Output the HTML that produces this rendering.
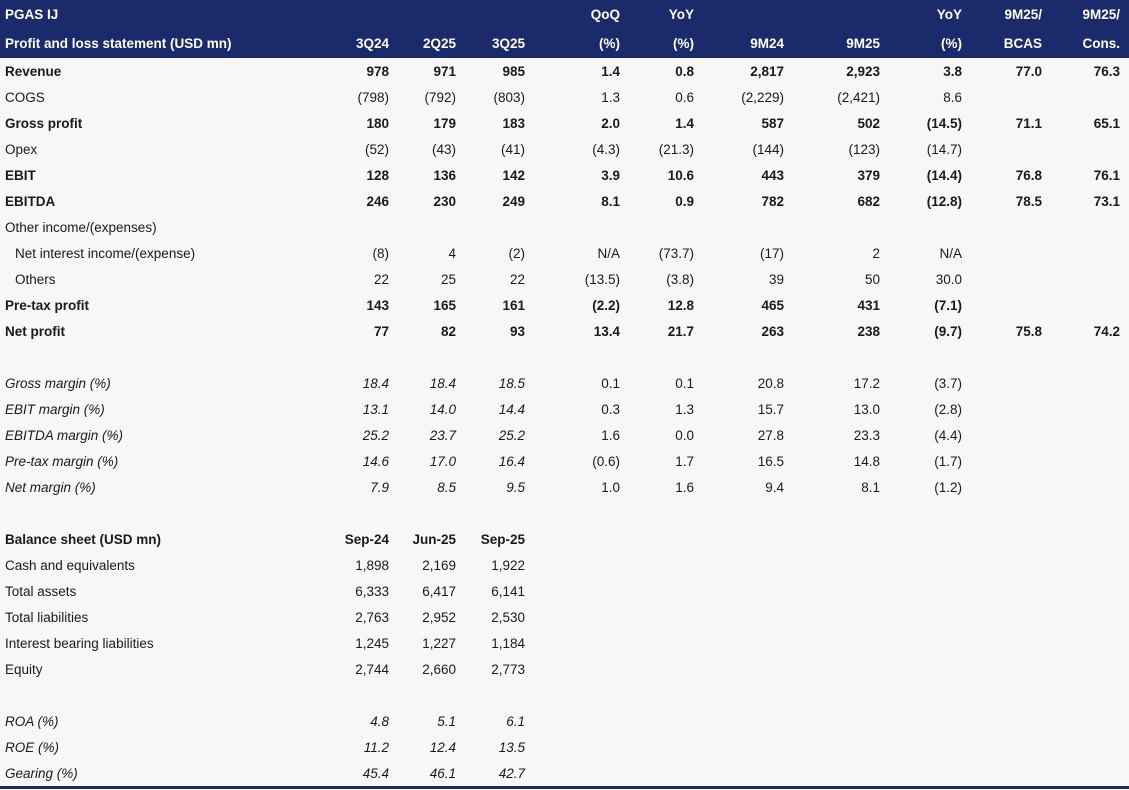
<!DOCTYPE html>
<html><head><meta charset="utf-8"><style>
html,body{margin:0;padding:0;background:#f7f7f7;width:1129px;height:790px;overflow:hidden}
table{border-collapse:collapse;table-layout:fixed;font-family:"Liberation Sans",sans-serif;font-size:13.5px;color:#1a1a1a;position:absolute;left:0;top:0}
td{padding:0;height:26px;text-align:right;white-space:nowrap;overflow:visible}
td:first-child{text-align:left;padding-left:5px}
tr.h td{background:#1b2a6b;color:#fff;font-weight:bold;height:29px}
tr.b td{font-weight:bold}
tr.i td{font-style:italic}
tr.i td:nth-child(n+5){font-style:normal}
.ind{padding-left:15px!important}
.line{position:absolute;left:0;top:786px;width:1129px;height:3px;background:#1b2a6b}
</style></head><body>
<table>
<colgroup><col style="width:330px"><col style="width:59px"><col style="width:67px"><col style="width:69px"><col style="width:95px"><col style="width:74px"><col style="width:90px"><col style="width:96px"><col style="width:82px"><col style="width:80px"><col style="width:78px"><col style="width:9px"></colgroup>
<tr class="h"><td>PGAS IJ</td><td></td><td></td><td></td><td>QoQ</td><td>YoY</td><td></td><td></td><td>YoY</td><td>9M25/</td><td>9M25/</td><td></td></tr>
<tr class="h"><td>Profit and loss statement (USD mn)</td><td>3Q24</td><td>2Q25</td><td>3Q25</td><td>(%)</td><td>(%)</td><td>9M24</td><td>9M25</td><td>(%)</td><td>BCAS</td><td>Cons.</td><td></td></tr>
<tr class="b"><td>Revenue</td><td>978</td><td>971</td><td>985</td><td>1.4</td><td>0.8</td><td>2,817</td><td>2,923</td><td>3.8</td><td>77.0</td><td>76.3</td><td></td></tr>
<tr><td>COGS</td><td>(798)</td><td>(792)</td><td>(803)</td><td>1.3</td><td>0.6</td><td>(2,229)</td><td>(2,421)</td><td>8.6</td><td></td><td></td><td></td></tr>
<tr class="b"><td>Gross profit</td><td>180</td><td>179</td><td>183</td><td>2.0</td><td>1.4</td><td>587</td><td>502</td><td>(14.5)</td><td>71.1</td><td>65.1</td><td></td></tr>
<tr><td>Opex</td><td>(52)</td><td>(43)</td><td>(41)</td><td>(4.3)</td><td>(21.3)</td><td>(144)</td><td>(123)</td><td>(14.7)</td><td></td><td></td><td></td></tr>
<tr class="b"><td>EBIT</td><td>128</td><td>136</td><td>142</td><td>3.9</td><td>10.6</td><td>443</td><td>379</td><td>(14.4)</td><td>76.8</td><td>76.1</td><td></td></tr>
<tr class="b"><td>EBITDA</td><td>246</td><td>230</td><td>249</td><td>8.1</td><td>0.9</td><td>782</td><td>682</td><td>(12.8)</td><td>78.5</td><td>73.1</td><td></td></tr>
<tr><td>Other income/(expenses)</td><td></td><td></td><td></td><td></td><td></td><td></td><td></td><td></td><td></td><td></td><td></td></tr>
<tr><td class="ind">Net interest income/(expense)</td><td>(8)</td><td>4</td><td>(2)</td><td>N/A</td><td>(73.7)</td><td>(17)</td><td>2</td><td>N/A</td><td></td><td></td><td></td></tr>
<tr><td class="ind">Others</td><td>22</td><td>25</td><td>22</td><td>(13.5)</td><td>(3.8)</td><td>39</td><td>50</td><td>30.0</td><td></td><td></td><td></td></tr>
<tr class="b"><td>Pre-tax profit</td><td>143</td><td>165</td><td>161</td><td>(2.2)</td><td>12.8</td><td>465</td><td>431</td><td>(7.1)</td><td></td><td></td><td></td></tr>
<tr class="b"><td>Net profit</td><td>77</td><td>82</td><td>93</td><td>13.4</td><td>21.7</td><td>263</td><td>238</td><td>(9.7)</td><td>75.8</td><td>74.2</td><td></td></tr>
<tr><td colspan="12"></td></tr>
<tr class="i"><td>Gross margin (%)</td><td>18.4</td><td>18.4</td><td>18.5</td><td>0.1</td><td>0.1</td><td>20.8</td><td>17.2</td><td>(3.7)</td><td></td><td></td><td></td></tr>
<tr class="i"><td>EBIT margin (%)</td><td>13.1</td><td>14.0</td><td>14.4</td><td>0.3</td><td>1.3</td><td>15.7</td><td>13.0</td><td>(2.8)</td><td></td><td></td><td></td></tr>
<tr class="i"><td>EBITDA margin (%)</td><td>25.2</td><td>23.7</td><td>25.2</td><td>1.6</td><td>0.0</td><td>27.8</td><td>23.3</td><td>(4.4)</td><td></td><td></td><td></td></tr>
<tr class="i"><td>Pre-tax margin (%)</td><td>14.6</td><td>17.0</td><td>16.4</td><td>(0.6)</td><td>1.7</td><td>16.5</td><td>14.8</td><td>(1.7)</td><td></td><td></td><td></td></tr>
<tr class="i"><td>Net margin (%)</td><td>7.9</td><td>8.5</td><td>9.5</td><td>1.0</td><td>1.6</td><td>9.4</td><td>8.1</td><td>(1.2)</td><td></td><td></td><td></td></tr>
<tr><td colspan="12"></td></tr>
<tr class="b"><td>Balance sheet (USD mn)</td><td>Sep-24</td><td>Jun-25</td><td>Sep-25</td><td colspan="8"></td></tr>
<tr><td>Cash and equivalents</td><td>1,898</td><td>2,169</td><td>1,922</td><td colspan="8"></td></tr>
<tr><td>Total assets</td><td>6,333</td><td>6,417</td><td>6,141</td><td colspan="8"></td></tr>
<tr><td>Total liabilities</td><td>2,763</td><td>2,952</td><td>2,530</td><td colspan="8"></td></tr>
<tr><td>Interest bearing liabilities</td><td>1,245</td><td>1,227</td><td>1,184</td><td colspan="8"></td></tr>
<tr><td>Equity</td><td>2,744</td><td>2,660</td><td>2,773</td><td colspan="8"></td></tr>
<tr><td colspan="12"></td></tr>
<tr class="i"><td>ROA (%)</td><td>4.8</td><td>5.1</td><td>6.1</td><td colspan="8"></td></tr>
<tr class="i"><td>ROE (%)</td><td>11.2</td><td>12.4</td><td>13.5</td><td colspan="8"></td></tr>
<tr class="i"><td>Gearing (%)</td><td>45.4</td><td>46.1</td><td>42.7</td><td colspan="8"></td></tr>
</table>
<div class="line"></div>
</body></html>
